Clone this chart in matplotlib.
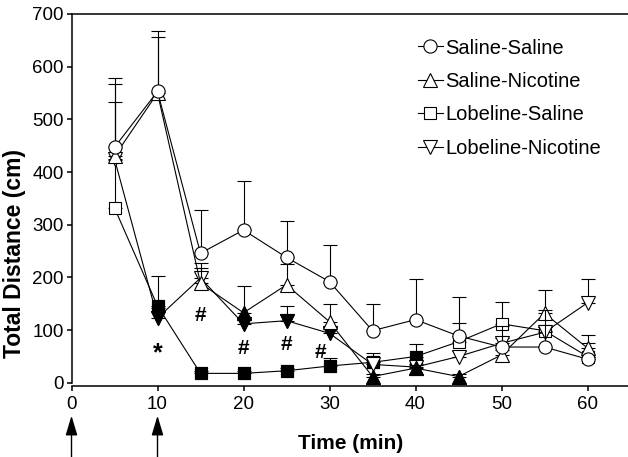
import matplotlib
matplotlib.use('Agg')
import matplotlib.pyplot as plt
import numpy as np
from matplotlib.transforms import blended_transform_factory

plt.rcParams['font.family'] = ['Liberation Sans', 'DejaVu Sans']

# ---------------- data ----------------
time_min = [5, 10, 15, 20, 25, 30, 35, 40, 45, 50, 55, 60]

saline_saline = [447, 553, 246, 290, 238, 192, 99, 120, 89, 68, 68, 45]
saline_saline_sem = [131, 115, 82, 94, 70, 70, 50, 77, 73, 40, 70, 5]

saline_nicotine = [430, 550, 189, 133, 186, 116, 12, 28, 12, 53, 132, 66]
saline_nicotine_sem = [138, 107, 29, 51, 40, 34, 5, 5, 5, 10, 44, 25]
saline_nicotine_sig = [3, 6, 7, 8]

lobeline_saline = [332, 146, 18, 18, 23, 32, 39, 50, 78, 112, 99, 50]
lobeline_saline_sem = [91, 56, 5, 5, 5, 15, 17, 24, 36, 42, 7, 25]
lobeline_saline_sig = [1, 2, 3, 4, 5, 6, 7]

lobeline_nicotine = [425, 123, 199, 112, 118, 94, 35, 30, 50, 75, 96, 152]
lobeline_nicotine_sem = [108, 20, 28, 10, 27, 10, 5, 5, 10, 10, 10, 45]
lobeline_nicotine_sig = [1, 3, 4, 5]

sig_labels = ['*', '#', '#', '#', '#']
sig_times = [10, 15, 20, 25, 28.9]
sig_values = [42, 117, 54, 63, 47]

injection_times = [0, 10]

x_ticks = [0, 10, 20, 30, 40, 50, 60]
y_ticks = [0, 100, 200, 300, 400, 500, 600, 700]

# ---------------- figure ----------------
W, H = 628, 457
fig = plt.figure(figsize=(W / 100, H / 100), dpi=100)
x0, x_right = 71.5, 630.5
y_top, y_bot = 14, 385.5
ax = fig.add_axes([x0 / W, (H - y_bot) / H, (x_right - x0) / W, (y_bot - y_top) / H])

series = [
    ('Saline-Saline', saline_saline, saline_saline_sem, [], 'o', 9.5, 8),
    ('Saline-Nicotine', saline_nicotine, saline_nicotine_sem, saline_nicotine_sig, '^', 9.5, 6),
    ('Lobeline-Saline', lobeline_saline, lobeline_saline_sem, lobeline_saline_sig, 's', 8.7, 2),
    ('Lobeline-Nicotine', lobeline_nicotine, lobeline_nicotine_sem, lobeline_nicotine_sig, 'v', 9.5, 4),
]

t = np.array(time_min)
for name, mean, sem, sig, mk, ms, z in series:
    mean = np.array(mean, dtype=float)
    sem = np.array(sem, dtype=float)
    ax.errorbar(t, mean, yerr=[np.zeros_like(sem), sem], fmt='none', ecolor='black',
                elinewidth=0.8, capsize=4.7, capthick=0.8, zorder=z)
    ax.plot(t, mean, color='black', lw=0.8, marker=mk, ms=ms, mfc='white', mec='black',
            mew=0.8, label=name, zorder=z + 1)
    if sig:
        idx = np.array(sig)
        ax.plot(t[idx], mean[idx], ls='none', marker=mk, ms=ms, mfc='black', mec='black',
                mew=0.8, zorder=z + 1)

for lab, tx, vy in zip(sig_labels, sig_times, sig_values):
    if lab == '*':
        ax.text(tx, vy, lab, ha='center', va='baseline', fontsize=18, fontweight='bold', zorder=10)
    else:
        ax.text(tx, vy, lab, ha='center', va='baseline', fontsize=15, fontweight='bold', zorder=10)

ax.set_xlim(0, 65)
ax.set_ylim(-5, 700)
ax.set_xticks(x_ticks)
ax.set_yticks(y_ticks)
ax.tick_params(axis='both', direction='out', length=3.6, width=1.1, labelsize=13.5)
ax.tick_params(axis='x', pad=4)
ax.tick_params(axis='y', pad=2)
for side in ['left', 'bottom', 'top']:
    ax.spines[side].set_linewidth(1.1)
ax.spines['right'].set_visible(False)
ax.spines['left'].set_bounds(0, 700)

ax.set_xlabel('Time (min)', fontsize=15, fontweight='bold')
ax.set_ylabel('Total Distance (cm)', fontsize=16.5, fontweight='bold')
ax.yaxis.set_label_coords(-0.082, 0.355)
ax.xaxis.set_label_coords(0.5, -0.13)

ax.legend(loc='upper left', bbox_to_anchor=(418 / W, (H - 38.5) / H), bbox_transform=fig.transFigure,
          frameon=False, fontsize=14.5, handlelength=1.24, handletextpad=0.12, borderpad=0,
          borderaxespad=0, labelspacing=0.72, numpoints=1)

trans = blended_transform_factory(ax.transData, fig.transFigure)
for tx in injection_times:
    ax.annotate('', xy=(tx, (H - 415.7) / H), xytext=(tx, -0.05), xycoords=trans, textcoords=trans,
                annotation_clip=False,
                arrowprops=dict(arrowstyle='-|>,head_length=0.6,head_width=0.18', mutation_scale=20,
                                lw=1.0, color='black', shrinkA=0, shrinkB=0))

fig.savefig('out.png', dpi=100)
